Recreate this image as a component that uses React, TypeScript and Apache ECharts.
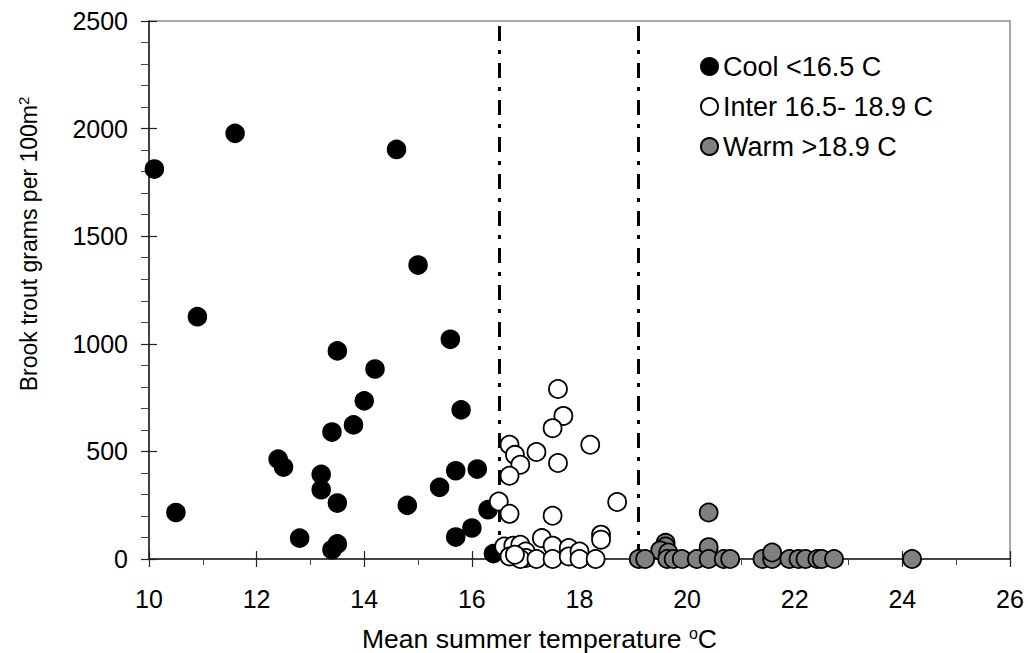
import React, { useEffect, useRef } from "react";
import * as echarts from "echarts";

const coolX = [10.1, 11.6, 14.6, 15.0, 10.9, 13.5, 15.6, 14.2, 14.0, 15.8, 13.8, 13.4, 12.4, 12.5, 13.2, 13.2, 15.7, 16.1, 15.4, 13.5, 14.8, 10.5, 16.3, 12.8, 15.7, 16.0, 13.4, 13.5, 16.4];
const coolY = [1812, 1978, 1903, 1366, 1126, 967, 1021, 883, 735, 693, 623, 590, 464, 427, 393, 322, 410, 418, 333, 260, 249, 216, 229, 97, 102, 144, 43, 70, 25];

const interX = [17.6, 17.7, 17.5, 18.2, 16.7, 16.8, 17.2, 16.9, 17.6, 16.7, 16.5, 18.7, 16.7, 17.5, 18.4, 18.4, 17.3, 16.6, 16.77, 16.9, 17.0, 17.0, 16.7, 16.9, 17.2, 17.5, 17.5, 17.8, 17.8, 18.0, 18.0, 18.3, 16.8];
const interY = [790, 665, 608, 531, 531, 484, 497, 438, 446, 387, 267, 265, 210, 201, 113, 90, 97, 58, 62, 66, 35, 5, 12, 0, 0, 62, 0, 51, 12, 35, 0, 0, 20];

const warmX = [20.4, 20.4, 19.6, 19.6, 19.5, 19.65, 19.1, 19.22, 19.63, 19.75, 19.9, 20.18, 20.4, 20.68, 20.8, 21.4, 21.58, 21.58, 21.9, 22.07, 22.2, 22.42, 22.5, 22.73, 24.18];
const warmY = [216, 55, 75, 58, 40, 30, 0, 0, 0, 0, 0, 0, 0, 0, 0, 0, 0, 30, 0, 0, 0, 0, 0, 0, 0];

const thresholds = [16.5, 19.1];
const seriesNames = ["Cool <16.5 C", "Inter 16.5- 18.9 C", "Warm >18.9 C"];
const xTickLabels = ["10", "12", "14", "16", "18", "20", "22", "24", "26"];
const yTickLabels = ["0", "500", "1000", "1500", "2000", "2500"];

const FONT = "'Liberation Sans', Arial, sans-serif";

function pairs(xs: number[], ys: number[]) {
  return xs.map((x, i) => [x, ys[i]]);
}

export default function App() {
  const ref = useRef<HTMLDivElement>(null);
  useEffect(() => {
    if (!ref.current) return;
    const chart = echarts.init(ref.current, undefined, { renderer: "svg" });
    const baseX = {
      type: "value" as const,
      min: 10,
      max: 26,
      interval: 2,
      splitLine: { show: false },
    };
    const baseY = {
      type: "value" as const,
      min: 0,
      max: 2500,
      interval: 500,
      splitLine: { show: false },
    };
    chart.setOption({
      animation: false,
      textStyle: { fontFamily: FONT },
      grid: {
        left: 149,
        top: 21,
        right: 18,
        bottom: 94,
        show: true,
        borderColor: "#8c8c8c",
        borderWidth: 1.5,
        containLabel: false,
        outerBoundsMode: "none",
      },
      legend: {
        orient: "vertical",
        left: 700,
        top: 53,
        padding: 0,
        itemWidth: 17,
        itemHeight: 17,
        itemGap: 13,
        icon: "circle",
        textStyle: { fontSize: 27, color: "#000", fontFamily: FONT },
        data: seriesNames,
      },
      xAxis: [
        {
          ...baseX,
          name: "{n|Mean summer temperature }{sup|o}{n|C}",
          nameLocation: "middle",
          nameGap: 66,
          nameTextStyle: {
            color: "#000",
            fontFamily: FONT,
            padding: [0, 80, 0, 0],
            rich: {
              n: { fontSize: 26.5, color: "#000", fontFamily: FONT },
              sup: { fontSize: 16, verticalAlign: "top", padding: [0, 0, 12, 0], color: "#000", fontFamily: FONT },
            },
          },
          axisLine: { show: true, onZero: false, lineStyle: { color: "#222", width: 1.5 } },
          axisTick: { show: true, inside: false, length: 8, lineStyle: { color: "#222", width: 1.2 } },
          minorTick: { show: true, splitNumber: 2, length: 6, lineStyle: { color: "#444", width: 1 } },
          axisLabel: {
            fontSize: 25,
            color: "#000",
            margin: 27,
            fontFamily: FONT,
            formatter: (v: number) => xTickLabels[Math.round((v - 10) / 2)] ?? "",
          },
        },
        {
          ...baseX,
          position: "bottom",
          axisLine: { show: false, onZero: false },
          axisTick: { show: true, inside: true, length: 8, lineStyle: { color: "#222", width: 1.2 } },
          axisLabel: { show: false },
        },
      ],
      yAxis: [
        {
          ...baseY,
          name: "{n|Brook trout grams per 100m}{sup|2}",
          nameLocation: "middle",
          nameGap: 108,
          nameTextStyle: {
            color: "#000",
            fontFamily: FONT,
            padding: [0, 0, 0, 92],
            rich: {
              n: { fontSize: 23, color: "#000", fontFamily: FONT },
              sup: { fontSize: 15, verticalAlign: "top", padding: [0, 0, 10, 0], color: "#000", fontFamily: FONT },
            },
          },
          axisLine: { show: true, onZero: false, lineStyle: { color: "#222", width: 1.5 } },
          axisTick: { show: true, inside: false, length: 8, lineStyle: { color: "#222", width: 1.2 } },
          minorTick: { show: true, splitNumber: 5, length: 8, lineStyle: { color: "#444", width: 1 } },
          axisLabel: {
            fontSize: 25,
            color: "#000",
            margin: 21,
            fontFamily: FONT,
            formatter: (v: number) => yTickLabels[Math.round(v / 500)] ?? "",
          },
        },
        {
          ...baseY,
          position: "left",
          axisLine: { show: false, onZero: false },
          axisTick: { show: true, inside: true, length: 8, lineStyle: { color: "#222", width: 1.2 } },
          axisLabel: { show: false },
        },
      ],
      series: [
        {
          name: seriesNames[0],
          type: "scatter",
          symbol: "circle",
          symbolSize: 18,
          itemStyle: { color: "#000", borderColor: "#000", borderWidth: 1.5, opacity: 1 },
          data: pairs(coolX, coolY),
          z: 3,
          markLine: {
            silent: true,
            symbol: "none",
            label: { show: false },
            lineStyle: { color: "#000", width: 3, type: [15, 9, 4, 9] },
            data: thresholds.map((t) => ({ xAxis: t })),
            z: 2,
          },
        },
        {
          name: seriesNames[1],
          type: "scatter",
          symbol: "circle",
          symbolSize: 18,
          itemStyle: { color: "#fff", borderColor: "#000", borderWidth: 1.8, opacity: 1 },
          data: pairs(interX, interY),
          z: 4,
        },
        {
          name: seriesNames[2],
          type: "scatter",
          symbol: "circle",
          symbolSize: 18,
          itemStyle: { color: "#808080", borderColor: "#000", borderWidth: 1.8, opacity: 1 },
          data: pairs(warmX, warmY),
          z: 5,
        },
      ],
    });
    return () => chart.dispose();
  }, []);
  return <div ref={ref} style={{ width: 1028, height: 653, position: "absolute", left: 0, top: 0 }} />;
}
